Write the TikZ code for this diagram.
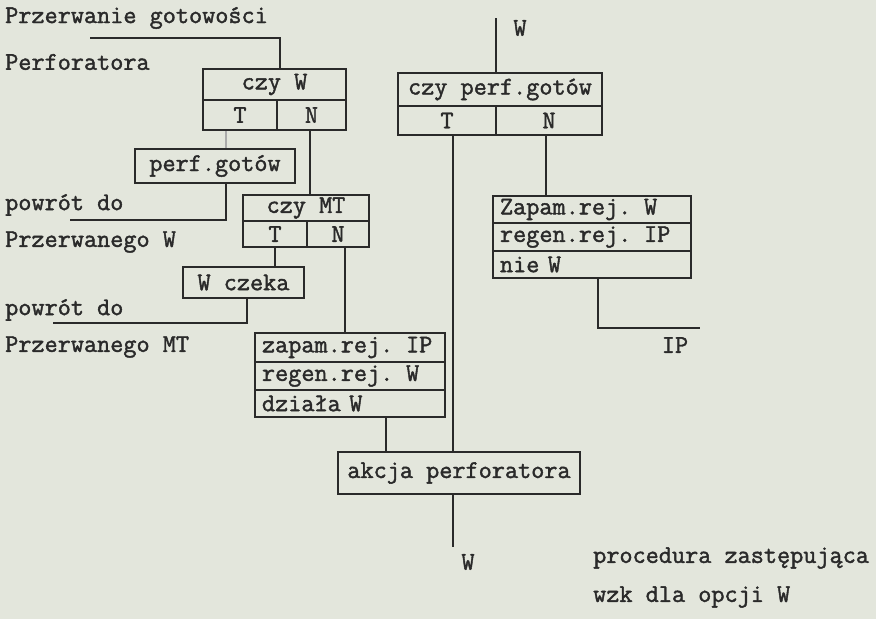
\documentclass[tikz,border=0pt]{standalone}
\usepackage{fontspec}
\newfontfamily\tw{Latin Modern Mono}[FakeBold=1.6]
\definecolor{paper}{HTML}{E3E6DC}
\definecolor{ink}{HTML}{2A2A2A}
\begin{document}
\begin{tikzpicture}[x=1pt,y=-1pt,
  every node/.style={font=\tw\fontsize{25.5}{27}\selectfont, text=ink},
  box/.style={draw=ink, line width=2.3pt, inner sep=0pt, align=center},
  rowbox/.style={draw=ink, line width=2.3pt, inner xsep=7pt, inner ysep=0pt, align=left},
  conn/.style={draw=ink, line width=2pt},
  faint/.style={draw=ink!40, line width=1.6pt},
  lbl/.style={anchor=west, inner sep=0pt}]
\fill[paper] (0,0) rectangle (876,619);
\useasboundingbox (0,0) rectangle (876,619);

% left-hand labels
\node[lbl] (t1) at (5,18) {Przerwanie gotowości};
\node[lbl] (t2) at (5,62) {Perforatora};
\node[lbl] (t3) at (5,205) {powrót do};
\node[lbl] (t4) at (5,242) {Przerwanego W};
\node[lbl] (t5) at (5,310) {powrót do};
\node[lbl] (t6) at (5,347) {Przerwanego MT};

% czy W
\node[box, minimum width=143pt, minimum height=31pt] (cwh) at (274.5,84.5) {czy W};
\node[box, minimum width=74pt, minimum height=30pt] (cwT) at (240,115) {T};
\node[box, minimum width=69pt, minimum height=30pt] (cwN) at (311.5,115) {N};

% perf.gotow
\node[box, minimum width=160pt, minimum height=34pt] (pg) at (215,166) {perf.gotów};

% czy MT
\node[box, minimum width=126pt, minimum height=26pt] (cmh) at (306,208) {czy MT};
\node[box, minimum width=64pt, minimum height=26pt] (cmT) at (275,234) {T};
\node[box, minimum width=62pt, minimum height=26pt] (cmN) at (338,234) {N};

% W czeka
\node[box, minimum width=121pt, minimum height=31pt] (wc) at (243.5,282.5) {W czeka};

% zapam.rej. IP
\node[rowbox, text width=176pt, minimum height=29pt] (zi1) at (350,347.5) {zapam.rej. IP};
\node[rowbox, text width=176pt, minimum height=28pt] (zi2) at (350,376) {regen.rej. W};
\node[rowbox, text width=176pt, minimum height=27pt] (zi3) at (350,403.5) {działa W};

% akcja perforatora
\node[box, minimum width=242pt, minimum height=42pt] (ak) at (459,473) {akcja perforatora};

% czy perf.gotow
\node[box, minimum width=204pt, minimum height=33pt] (cph) at (500,89.5) {czy perf.gotów};
\node[box, minimum width=98pt, minimum height=29pt] (cpT) at (447,120.5) {T};
\node[box, minimum width=106pt, minimum height=29pt] (cpN) at (549,120.5) {N};

% Zapam.rej. W
\node[rowbox, text width=184pt, minimum height=27pt] (zw1) at (592,209.5) {Zapam.rej. W};
\node[rowbox, text width=184pt, minimum height=28pt] (zw2) at (592,237) {regen.rej. IP};
\node[rowbox, text width=184pt, minimum height=27pt] (zw3) at (592,264.5) {nie W};

% free ends
\coordinate (in1) at (90,38);
\coordinate (r1) at (70,220);
\coordinate (r2) at (53,323);
\coordinate (wtop) at (496,18);
\coordinate (r3) at (700,328);
\coordinate (wout) at (453,547);

% labels
\node (lw1) at (520,28) {W};
\node (lip) at (675,345) {IP};
\node (lw2) at (468,562) {W};
\node[lbl] (p1) at (593,558) {procedura zastępująca};
\node[lbl] (p2) at (593,597) {wzk dla opcji W};

% connectors
\draw[conn] (in1) -| ([xshift=5pt]cwh.north);
\draw[faint] ([xshift=-14pt]cwT.south) -- ([xshift=-14pt]cwT.south |- pg.north);
\draw[conn] ([xshift=-2pt]cwN.south) -- ([xshift=-2pt]cwN.south |- cmh.north);
\draw[conn] ([xshift=11pt]pg.south) |- (r1);
\draw[conn] (cmT.south) -- (cmT.south |- wc.north);
\draw[conn] ([xshift=3.5pt]wc.south) |- (r2);
\draw[conn] ([xshift=7pt]cmN.south) -- ([xshift=7pt]cmN.south |- zi1.north);
\draw[conn] ([xshift=36pt]zi3.south) -- ([xshift=36pt]zi3.south |- ak.north);
\draw[conn] (wtop) -- (wtop |- cph.north);
\draw[conn] ([xshift=6pt]cpT.south) -- ([xshift=6pt]cpT.south |- ak.north);
\draw[conn] ([xshift=-3pt]cpN.south) -- ([xshift=-3pt]cpN.south |- zw1.north);
\draw[conn] ([xshift=6pt]zw3.south) |- (r3);
\draw[conn] ([xshift=-6pt]ak.south) -- (wout);
\end{tikzpicture}
\end{document}
